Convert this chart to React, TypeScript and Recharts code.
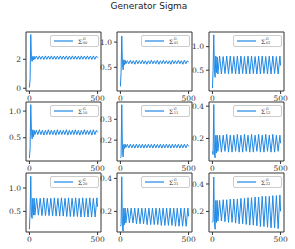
import { LineChart, Line, XAxis, YAxis, Legend, ReferenceArea } from "recharts";

const gridA = [
  0, 5, 10, 15, 20, 25, 30, 35, 40,
  51, 62, 73, 84, 95, 106, 117, 128, 139, 150,
  161, 172, 183, 194, 205, 216, 227, 238, 249, 260,
  271, 282, 293, 304, 315, 326, 337, 348, 359, 370,
  381, 392, 403, 414, 425, 436, 447, 458, 469, 480,
  491, 500,
];

const gridB = [
  0, 5, 10, 15, 20, 25, 30, 35, 40,
  53, 66, 79, 92, 105, 118, 131, 144, 157, 170,
  183, 196, 209, 222, 235, 248, 261, 274, 287, 300,
  313, 326, 339, 352, 365, 378, 391, 404, 417, 430,
  443, 456, 469, 482, 495,
  500,
];

// grid A series
const sigma00 = [
  0.05, 0.6, 3.7, 2.0, 1.85, 2.2, 1.95, 2.2, 2.0,
  2.22, 2.0, 2.23, 2.0, 2.22, 1.99, 2.23, 2.0, 2.22, 2.0,
  2.23, 2.0, 2.22, 1.99, 2.22, 2.0, 2.23, 2.0, 2.22, 2.0,
  2.23, 1.99, 2.22, 2.0, 2.23, 2.0, 2.22, 2.0, 2.22, 1.99,
  2.23, 2.0, 2.22, 2.0, 2.23, 2.0, 2.22, 1.99, 2.23, 2.0,
  2.22, 2.1,
];
const sigma01 = [
  0.12, 0.4, 1.12, 0.55, 0.45, 0.65, 0.55, 0.64, 0.57,
  0.63, 0.57, 0.64, 0.57, 0.63, 0.56, 0.64, 0.57, 0.63, 0.57,
  0.64, 0.57, 0.63, 0.56, 0.63, 0.57, 0.64, 0.57, 0.63, 0.57,
  0.64, 0.56, 0.63, 0.57, 0.64, 0.57, 0.63, 0.57, 0.63, 0.56,
  0.64, 0.57, 0.63, 0.57, 0.64, 0.57, 0.63, 0.56, 0.64, 0.57,
  0.63, 0.6,
];
const sigma10 = [
  0.12, 0.3, 1.12, 0.6, 0.48, 0.65, 0.52, 0.64, 0.56,
  0.64, 0.56, 0.65, 0.56, 0.64, 0.55, 0.64, 0.56, 0.65, 0.56,
  0.64, 0.56, 0.64, 0.55, 0.65, 0.56, 0.64, 0.56, 0.64, 0.56,
  0.65, 0.55, 0.64, 0.56, 0.64, 0.56, 0.65, 0.56, 0.64, 0.55,
  0.64, 0.56, 0.65, 0.56, 0.64, 0.56, 0.64, 0.55, 0.65, 0.56,
  0.64, 0.6,
];
const sigma11 = [
  0.115, 0.12, 0.37, 0.15, 0.12, 0.18, 0.16, 0.18, 0.165,
  0.18, 0.163, 0.181, 0.163, 0.18, 0.162, 0.181, 0.163, 0.18, 0.163,
  0.181, 0.162, 0.18, 0.163, 0.181, 0.163, 0.18, 0.162, 0.181, 0.163,
  0.18, 0.163, 0.181, 0.162, 0.18, 0.163, 0.181, 0.163, 0.18, 0.162,
  0.181, 0.163, 0.18, 0.163, 0.181, 0.162, 0.18, 0.163, 0.181, 0.163,
  0.18, 0.17,
];

// grid B series
const sigma02 = [
  0.12, 0.5, 1.25, 0.45, 0.35, 0.8, 0.45, 0.78, 0.42,
  0.8, 0.42, 0.79, 0.43, 0.8, 0.42, 0.8, 0.43, 0.79, 0.42,
  0.8, 0.42, 0.8, 0.43, 0.79, 0.42, 0.8, 0.42, 0.8, 0.43,
  0.79, 0.42, 0.8, 0.42, 0.8, 0.43, 0.79, 0.42, 0.8, 0.42,
  0.8, 0.43, 0.79, 0.42, 0.8,
  0.6,
];
const sigma12 = [
  0.12, 0.1, 0.41, 0.1, 0.08, 0.22, 0.11, 0.22, 0.12,
  0.22, 0.115, 0.22, 0.12, 0.225, 0.115, 0.22, 0.115, 0.22, 0.12,
  0.225, 0.115, 0.22, 0.115, 0.225, 0.12, 0.22, 0.115, 0.225, 0.115,
  0.22, 0.12, 0.225, 0.115, 0.22, 0.115, 0.225, 0.12, 0.22, 0.115,
  0.225, 0.115, 0.22, 0.12, 0.22,
  0.17,
];
const sigma20 = [
  0.12, 0.5, 1.25, 0.4, 0.35, 0.78, 0.42, 0.78, 0.42,
  0.78, 0.42, 0.78, 0.41, 0.79, 0.41, 0.78, 0.41, 0.78, 0.4,
  0.79, 0.4, 0.78, 0.4, 0.79, 0.4, 0.78, 0.39, 0.79, 0.39,
  0.78, 0.39, 0.79, 0.39, 0.78, 0.38, 0.79, 0.38, 0.78, 0.38,
  0.79, 0.38, 0.78, 0.38, 0.79,
  0.6,
];
const sigma21 = [
  0.11, 0.12, 0.41, 0.1, 0.08, 0.22, 0.12, 0.22, 0.13,
  0.22, 0.13, 0.22, 0.13, 0.22, 0.125, 0.22, 0.125, 0.22, 0.125,
  0.22, 0.12, 0.22, 0.12, 0.22, 0.12, 0.22, 0.12, 0.22, 0.115,
  0.22, 0.115, 0.22, 0.115, 0.22, 0.115, 0.22, 0.11, 0.22, 0.11,
  0.22, 0.11, 0.22, 0.11, 0.22,
  0.17,
];
const sigma22 = [
  0.12, 0.13, 0.45, 0.12, 0.07, 0.28, 0.12, 0.28, 0.13,
  0.28, 0.13, 0.285, 0.125, 0.285, 0.12, 0.29, 0.12, 0.29, 0.115,
  0.29, 0.11, 0.295, 0.11, 0.295, 0.105, 0.3, 0.1, 0.3, 0.1,
  0.305, 0.095, 0.305, 0.09, 0.31, 0.09, 0.31, 0.085, 0.31, 0.08,
  0.315, 0.08, 0.315, 0.075, 0.32,
  0.2,
];

const panelLabels = ["00", "01", "02", "10", "11", "12", "20", "21", "22"];
const panelX = [gridA, gridA, gridB, gridA, gridA, gridB, gridB, gridB, gridB];
const panelY = [sigma00, sigma01, sigma02, sigma10, sigma11, sigma12, sigma20, sigma21, sigma22];
const panelDomains: [number, number][] = [
  [-0.19, 3.88], [0.03, 1.2], [0.06, 1.31],
  [0.065, 1.17], [0.1, 0.383], [0.06, 0.426],
  [0.06, 1.32], [0.075, 0.433], [0.05, 0.48],
];
const panelTicks = [
  [0, 2], [0.5, 1.0], [0.5, 1.0],
  [0.5, 1.0], [0.2, 0.3], [0.2, 0.4],
  [0.5, 1.0], [0.2, 0.4], [0.2, 0.4],
];
const xDomain: [number, number] = [-25, 525];
const xTicks = [0, 500];

const colLeft = [26, 117, 209];
const rowTop = [32, 102, 173];
const plotW = 75;
const plotH = 59;
const axisW = 26;
const padR = 10;
const blue = "#1e88e5";
const spine = "#333";

function SigmaLabel({ idx }: { idx: string }) {
  return (
    <span style={{ display: "inline-flex", alignItems: "center", fontFamily: "DejaVu Serif", color: "#333" }}>
      <span style={{ fontSize: 6 }}>Σ</span>
      <span style={{ display: "inline-flex", flexDirection: "column", fontSize: 3.6, lineHeight: "4px", marginLeft: 0.5 }}>
        <span>G</span>
        <span>{idx}</span>
      </span>
    </span>
  );
}

function Panel({ i }: { i: number }) {
  const r = Math.floor(i / 3);
  const c = i % 3;
  const data = panelX[i].map((x, k) => ({ x, y: panelY[i][k] }));
  const fmt = (v: number) => (i === 0 ? String(v) : v.toFixed(1));
  const tickStyle = { fontSize: 7.5, fontFamily: "DejaVu Serif", fill: "#333" };
  return (
    <div style={{ position: "absolute", left: colLeft[c] - axisW, top: rowTop[r] - 2 }}>
      <LineChart
        width={plotW + axisW + padR}
        height={plotH + 2 + 13}
        data={data}
        margin={{ top: 2, right: padR, left: 0, bottom: 0 }}
        style={{ overflow: "visible" }}
      >
        <XAxis
          xAxisId="b"
          dataKey="x"
          type="number"
          domain={xDomain}
          ticks={xTicks}
          height={13}
          axisLine={false}
          stroke={spine}
          tickSize={3}
          tick={tickStyle}
          interval={0}
        />
        <YAxis
          yAxisId="l"
          type="number"
          domain={panelDomains[i]}
          ticks={panelTicks[i]}
          width={axisW}
          axisLine={false}
          stroke={spine}
          tickSize={3}
          tickFormatter={fmt}
          tick={tickStyle}
          interval={0}
          allowDataOverflow
        />
        <ReferenceArea
          xAxisId="b"
          yAxisId="l"
          x1={xDomain[0]}
          x2={xDomain[1]}
          y1={panelDomains[i][0]}
          y2={panelDomains[i][1]}
          fill="none"
          stroke={spine}
          strokeWidth={1}
          ifOverflow="visible"
        />
        <Legend
          verticalAlign="middle"
          align="center"
          layout="horizontal"
          wrapperStyle={{ top: 5, left: axisW + 24, width: 49, height: 11 }}
          content={() => (
            <div
              style={{
                width: 47,
                height: 10,
                border: "1px solid #ccc",
                borderRadius: 2,
                background: "rgba(255,255,255,0.85)",
                display: "flex",
                alignItems: "center",
              }}
            >
              <svg width={27} height={10} style={{ display: "block" }}>
                <line x1={3} x2={22} y1={5} y2={5} stroke={blue} strokeWidth={1.2} />
              </svg>
              <SigmaLabel idx={panelLabels[i]} />
            </div>
          )}
        />
        <Line
          xAxisId="b"
          yAxisId="l"
          dataKey="y"
          type="linear"
          stroke={blue}
          strokeWidth={1}
          dot={false}
          isAnimationActive={false}
        />
      </LineChart>
    </div>
  );
}

export default function App() {
  return (
    <div style={{ position: "absolute", left: 0, top: 0, width: 295, height: 249, background: "#fff" }}>
      <div
        style={{
          position: "absolute",
          top: 1,
          left: 0,
          width: 298,
          textAlign: "center",
          fontFamily: "DejaVu Sans",
          fontSize: 9,
          color: "#222",
        }}
      >
        Generator Sigma
      </div>
      {panelLabels.map((_, i) => (
        <Panel key={i} i={i} />
      ))}
    </div>
  );
}
